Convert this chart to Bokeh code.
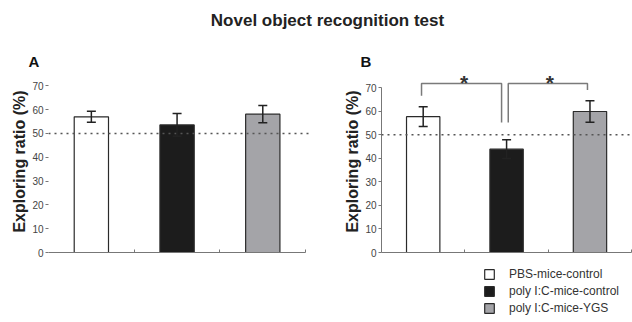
from bokeh.plotting import figure
from bokeh.layouts import column, row
from bokeh.models import (ColumnDataSource, Range1d, FixedTicker, Span, Whisker, TeeHead,
                          Label, Legend, LegendItem)
from bokeh.embed import file_html
from bokeh.resources import INLINE
from bokeh.core.properties import value

# ---------------- data ----------------
groups = ["PBS-mice-control", "poly I:C-mice-control", "poly I:C-mice-YGS"]
positions = [0.5, 1.5, 2.5]
colors = ["#ffffff", "#1c1c1c", "#a4a4a8"]

a_means = [57.0, 53.6, 58.1]
a_errs = [2.3, 4.8, 3.6]
b_means = [57.7, 43.9, 59.9]
b_errs = [4.2, 4.0, 4.6]

chance_level = 50
y_ticks = [0, 10, 20, 30, 40, 50, 60, 70]
x_ticks = [1, 2, 3]

# significance brackets (panel B)
bracket1_x = [0.48, 0.48, 1.44, 1.44]
bracket1_y = [66.6, 71.8, 71.8, 55.2]
bracket2_x = [1.52, 1.52, 2.47, 2.47]
bracket2_y = [55.2, 71.8, 71.8, 69.0]
star_x = [0.99, 2.02]
star_y = [77.2, 77.2]
star_text = ["*", "*"]

FONT = "Liberation Sans"
FRAME_H = 182


def make_panel(means, errs, frame_w, y_top, border_left, border_right,
               show_yline, x_end, label_standoff):
    src = ColumnDataSource(dict(x=positions, top=means, color=colors, label=groups,
                                upper=[m + e for m, e in zip(means, errs)],
                                lower=[m - e for m, e in zip(means, errs)]))
    p = figure(frame_width=frame_w, frame_height=FRAME_H,
               x_range=Range1d(0, x_end), y_range=Range1d(0, y_top),
               toolbar_location=None, output_backend="svg",
               min_border_left=border_left, min_border_right=border_right,
               min_border_top=0, min_border_bottom=10)
    p.xgrid.visible = False
    p.ygrid.visible = False
    p.outline_line_color = None
    p.background_fill_color = None
    p.border_fill_color = None

    p.vbar(x="x", top="top", width=0.4, bottom=0, source=src,
           fill_color="color", line_color="#2a2a2a", line_width=1.2)

    p.add_layout(Span(location=chance_level, dimension="width", line_color="#555555",
                      line_width=1.5, line_dash="dotted"))

    w = Whisker(base="x", upper="upper", lower="lower", source=src,
                line_color="#222222", line_width=1.5,
                upper_head=TeeHead(size=9, line_color="#222222", line_width=1.5),
                lower_head=TeeHead(size=9, line_color="#222222", line_width=1.5))
    w.level = "overlay"
    p.add_layout(w)

    # y axis
    ya = p.yaxis[0]
    ya.ticker = FixedTicker(ticks=y_ticks)
    ya.bounds = (0, 70)
    ya.minor_tick_line_color = None
    ya.major_tick_in = 0
    ya.major_tick_out = 3
    ya.major_tick_line_color = "#777777"
    ya.axis_line_color = "#777777" if show_yline else None
    ya.major_label_text_font = FONT
    ya.major_label_text_font_size = "10px"
    ya.major_label_text_color = "#444444"
    ya.major_label_standoff = 2
    ya.axis_label = "Exploring ratio (%)"
    ya.axis_label_text_font = FONT
    ya.axis_label_text_font_size = "16px"
    ya.axis_label_text_font_style = "bold"
    ya.axis_label_text_color = "#222222"
    ya.axis_label_standoff = label_standoff

    # x axis: line with small unlabeled ticks at category boundaries
    xa = p.xaxis[0]
    xa.ticker = FixedTicker(ticks=[], minor_ticks=x_ticks)
    xa.bounds = (0, 3)
    xa.major_tick_line_color = None
    xa.minor_tick_in = 3
    xa.minor_tick_out = 0
    xa.minor_tick_line_color = "#777777"
    xa.axis_line_color = "#777777"
    xa.major_label_standoff = 0
    return p


pA = make_panel(a_means, a_errs, 264, FRAME_H / 2.381, 48, 8, False, 3.08, 1)
pB = make_panel(b_means, b_errs, 251, FRAME_H / 2.354, 61, 0, True, 3.01, 1)

# brackets and stars
pB.line(bracket1_x, bracket1_y, line_color="#7a7a7a", line_width=1.5)
pB.line(bracket2_x, bracket2_y, line_color="#7a7a7a", line_width=1.5)
pB.text(star_x, star_y, text=star_text, text_font=value(FONT), text_font_size="21px",
        text_font_style="bold", text_align="center", text_baseline="top",
        text_color="#333333")


def blank(width, height, x_range=(0, 1), y_range=(0, 1)):
    f = figure(width=width, height=height, x_range=x_range, y_range=y_range,
               toolbar_location=None, output_backend="svg", min_border=0)
    f.axis.visible = False
    f.xgrid.visible = False
    f.ygrid.visible = False
    f.outline_line_color = None
    f.background_fill_color = None
    f.border_fill_color = None
    return f


# header: main title and panel letters
head = blank(632, 70)
head.add_layout(Label(x=327, y=50, x_units="screen", y_units="screen",
                      text="Novel object recognition test", text_font=FONT,
                      text_font_size="17px", text_font_style="bold", text_color="#222222",
                      text_align="center", text_baseline="middle"))
for letter, lx in (("A", 28), ("B", 360)):
    head.add_layout(Label(x=lx, y=9, x_units="screen", y_units="screen", text=letter,
                          text_font=FONT, text_font_size="15px", text_font_style="bold",
                          text_color="#111111", text_align="left", text_baseline="middle"))

# legend strip: hidden copies of the group bars feed the legend swatches
leg = blank(632, 60, x_range=(0, 3), y_range=(0, 70))
leg_src = ColumnDataSource(dict(x=positions, top=b_means, color=colors))
leg_r = leg.vbar(x="x", top="top", bottom=0, width=0.4, source=leg_src,
                 fill_color="color", line_color="#2a2a2a", line_width=1.2)
leg_r.visible = False
legend = Legend(items=[LegendItem(label=g, renderers=[leg_r], index=i) for i, g in enumerate(groups)],
                orientation="vertical", location=(483, 7),
                glyph_width=12, glyph_height=12, label_height=12, label_standoff=14,
                spacing=3, padding=0, margin=0, border_line_color=None,
                background_fill_alpha=0, label_text_font=FONT,
                label_text_font_size="12px", label_text_color="#333333")
leg.add_layout(legend)

layout = column(head, row(pA, pB, spacing=0), leg, spacing=0)

open("out.html", "w").write(file_html(layout, INLINE))
